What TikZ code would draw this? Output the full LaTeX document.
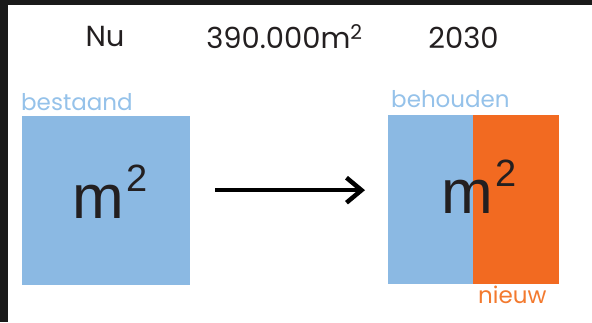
\documentclass[tikz,border=0pt]{standalone}
\usepackage{fontspec}
\setmainfont{Poppins}
\newfontfamily\arialfont{Liberation Sans}
\usetikzlibrary{arrows.meta}
\definecolor{boxblue}{HTML}{8BB9E3}
\definecolor{boxorange}{HTML}{F26A21}
\definecolor{lblblue}{HTML}{95C2EA}
\definecolor{lblorange}{HTML}{F37A2F}
\definecolor{ink}{HTML}{231F20}
\definecolor{frame}{HTML}{1A1A1A}
\tikzset{
  areabox/.style={draw=none, inner sep=0pt, anchor=north west},
  toptext/.style={inner sep=0pt, anchor=base, text=ink, font=\fontsize{29}{29}\selectfont},
  lbl/.style={inner sep=0pt, anchor=base west, font=\fontsize{23}{23}\selectfont},
  msq/.style={inner sep=0pt, anchor=base west, text=ink},
  flow/.style={line width=4.5pt, draw=black, -{Straight Barb[length=15pt,width=25pt]}}
}
\newcommand{\msqtext}{\arialfont\fontsize{62}{62}\selectfont m\kern2.5pt\raisebox{27pt}{\fontsize{38}{38}\selectfont 2}}
\begin{document}
\begin{tikzpicture}[x=1pt,y=-1pt]
\useasboundingbox (0,0) rectangle (592,322);
\fill[white] (0,0) rectangle (592,322);
\fill[frame] (0,0) rectangle (592,5);
\fill[frame] (0,0) rectangle (8,322);
% top texts
\node[toptext] (nu) at (105,46) {Nu};
\node[toptext] (area) at (284.5,48.5) {390.000m\textsuperscript{2}};
\node[toptext] (year) at (463.5,48.5) {2030};
% boxes
\node[areabox, fill=boxblue, minimum width=168pt, minimum height=169pt] (old) at (22,116) {};
\node[areabox, fill=boxblue, minimum width=85pt, minimum height=169pt] (keep) at (388,115) {};
\node[areabox, fill=boxorange, minimum width=86pt, minimum height=169pt] (new) at (473,115) {};
% labels
\node[lbl, text=lblblue] (lold) at (21,110) {bestaand};
\node[lbl, text=lblblue] (lkeep) at (391,107) {behouden};
\node[lbl, text=lblorange] (lnew) at (478,303) {nieuw};
% m2
\node[msq] (m1) at (72,218) {\msqtext};
\node[msq] (m2) at (441,213) {\msqtext};
% arrow
\draw[flow, shorten <=25pt, shorten >=23pt] ([yshift=10.5pt]old.east) -- ([yshift=9.5pt]keep.west);
\end{tikzpicture}
\end{document}
